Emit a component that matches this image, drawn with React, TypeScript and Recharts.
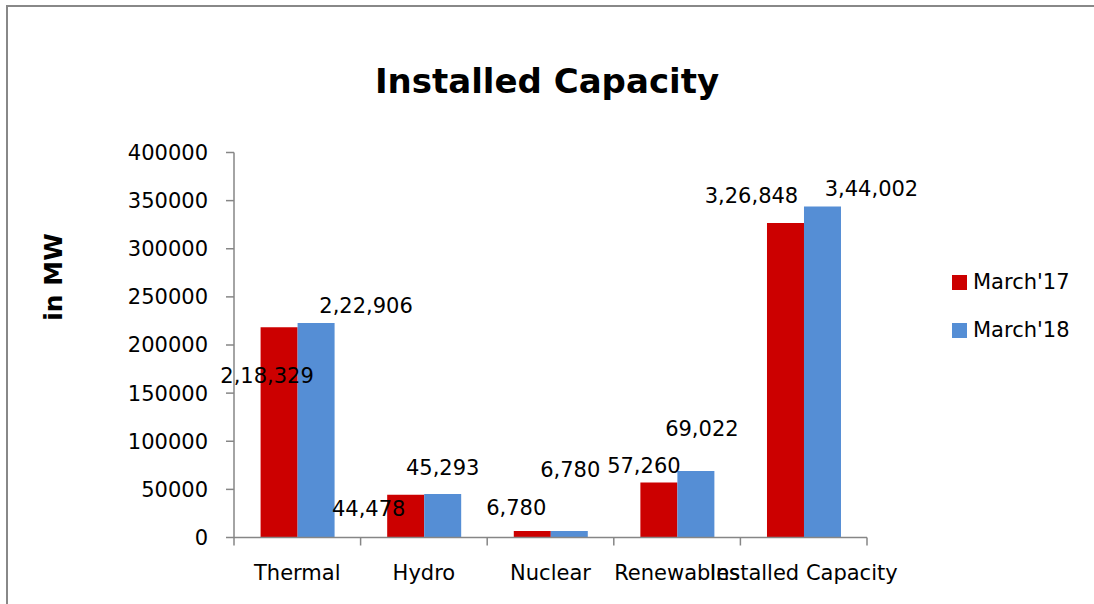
import React from 'react';
import { BarChart, Bar, XAxis, YAxis, LabelList } from 'recharts';

const categories = ['Thermal', 'Hydro', 'Nuclear', 'Renewables', 'Installed Capacity'];
const march17 = [218329, 44478, 6780, 57260, 326848];
const march18 = [222906, 45293, 6780, 69022, 344002];
const yTicks = [0, 50000, 100000, 150000, 200000, 250000, 300000, 350000, 400000];
const seriesNames = ["March'17", "March'18"];

const data = categories.map((c, i) => ({ name: c, m17: march17[i], m18: march18[i] }));

// label placement offsets (dx, dy from bar top-centre), mimicking the original chart
const labelOffsets17: [number, number][] = [[-12, 49], [-37, 14], [-16, -23], [-15, -16], [-34, -27]];
const labelOffsets18: [number, number][] = [[50, -17], [0, -26], [1, -61], [6, -42], [49, -17]];

const FONT = 'DejaVu Sans';
const RED = '#CC0000';
const BLUE = '#558ED5';
const AXIS = '#868686';

const W = 1094;
const H = 604;
const PLOT_LEFT = 234;
const PLOT_RIGHT = 867;
const PLOT_TOP = 152.5;
const PLOT_BOTTOM = 537.5;
const BAND = (PLOT_RIGHT - PLOT_LEFT) / categories.length;

function indian(n: number): string {
  const s = String(Math.round(n));
  if (s.length <= 3) return s;
  const last3 = s.slice(-3);
  let rest = s.slice(0, -3);
  const parts: string[] = [];
  while (rest.length > 2) {
    parts.unshift(rest.slice(-2));
    rest = rest.slice(0, -2);
  }
  if (rest.length) parts.unshift(rest);
  return parts.join(',') + ',' + last3;
}

const makeLabel = (offsets: [number, number][]) => (props: any) => {
  const { x, y, width, value, index } = props;
  const o = offsets[index] || [0, -10];
  return (
    <text
      x={Number(x) + Number(width) / 2 + o[0]}
      y={Number(y) + o[1]}
      textAnchor="middle"
      dominantBaseline="central"
      fontFamily={FONT}
      fontSize={21}
      fill="#000"
    >
      {indian(Number(value))}
    </text>
  );
};

const XTick = (props: any) => {
  const { x, y, payload, index } = props;
  const left = x - BAND / 2;
  return (
    <g>
      <line x1={left} y1={y} x2={left} y2={y + 8} stroke={AXIS} strokeWidth={1.5} />
      {index === categories.length - 1 && (
        <line x1={x + BAND / 2} y1={y} x2={x + BAND / 2} y2={y + 8} stroke={AXIS} strokeWidth={1.5} />
      )}
      <text x={x} y={y + 42} textAnchor="middle" fontFamily={FONT} fontSize={21} fill="#000">
        {payload.value}
      </text>
    </g>
  );
};

const LegendBox = () => {
  const colors = [RED, BLUE];
  return (
    <div
      style={{
        position: 'absolute',
        left: 952,
        top: 258,
        width: 140,
        fontFamily: FONT,
        fontSize: 21,
        color: '#000',
      }}
    >
      {seriesNames.map((n, i) => (
        <div key={n} style={{ display: 'flex', alignItems: 'center', height: 48 }}>
          <span style={{ width: 15, height: 15, background: colors[i], display: 'inline-block', marginRight: 6 }} />
          <span>{n}</span>
        </div>
      ))}
    </div>
  );
};

export default function App() {
  return (
    <div style={{ position: 'absolute', left: 0, top: 0, width: W, height: H, overflow: 'hidden', background: '#fff' }}>
      <div
        style={{
          position: 'absolute',
          left: 6,
          top: 5,
          width: W - 6,
          height: H - 5,
          borderTop: '2px solid #888',
          borderLeft: '2px solid #888',
          boxSizing: 'border-box',
        }}
      />
      <BarChart
        width={W}
        height={H}
        data={data}
        margin={{ top: PLOT_TOP, right: W - PLOT_RIGHT, bottom: H - PLOT_BOTTOM - 60, left: 0 }}
        barCategoryGap="21%"
        barGap={0}
      >
        <XAxis
          dataKey="name"
          height={60}
          axisLine={{ stroke: AXIS, strokeWidth: 1.5 }}
          tickLine={false}
          tickSize={0}
          tickMargin={0}
          interval={0}
          tick={<XTick />}
        />
        <YAxis
          width={PLOT_LEFT}
          domain={[0, 400000]}
          ticks={yTicks}
          interval={0}
          axisLine={{ stroke: AXIS, strokeWidth: 1.5 }}
          tickLine={{ stroke: AXIS, strokeWidth: 1.5 }}
          tickSize={8}
          tickMargin={18}
          tick={{ fill: '#000', fontSize: 21, fontFamily: FONT }}
        />
        <Bar dataKey="m17" name={seriesNames[0]} fill={RED} isAnimationActive={false}>
          <LabelList dataKey="m17" content={makeLabel(labelOffsets17)} />
        </Bar>
        <Bar dataKey="m18" name={seriesNames[1]} fill={BLUE} isAnimationActive={false}>
          <LabelList dataKey="m18" content={makeLabel(labelOffsets18)} />
        </Bar>
      </BarChart>
      <LegendBox />
      <svg width={W} height={H} style={{ position: 'absolute', left: 0, top: 0, pointerEvents: 'none' }}>
        <text x={547} y={93} textAnchor="middle" fontFamily={FONT} fontWeight="bold" fontSize={34} fill="#000">
          Installed Capacity
        </text>
        <text
          x={62}
          y={277}
          transform="rotate(-90 62 277)"
          textAnchor="middle"
          fontFamily={FONT}
          fontWeight="bold"
          fontSize={25}
          fill="#000"
        >
          in MW
        </text>
      </svg>
    </div>
  );
}
